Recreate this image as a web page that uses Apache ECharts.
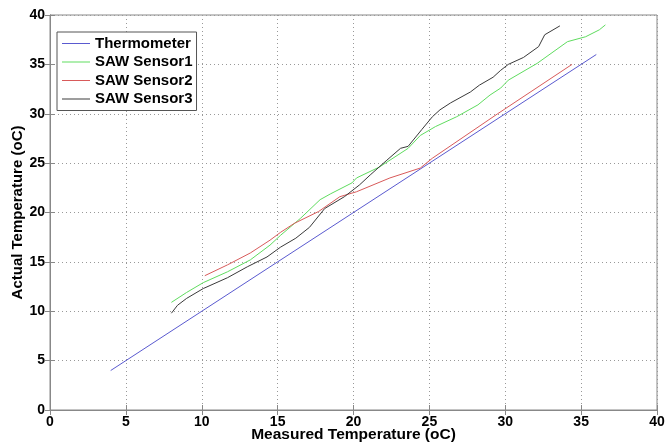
<!DOCTYPE html>
<html>
<head>
<meta charset="utf-8">
<script src="https://cdn.jsdelivr.net/npm/echarts@6/dist/echarts.min.js"></script>
<style>html,body{margin:0;padding:0;background:#fff;}#c{width:670px;height:443px;}</style>
</head>
<body>
<div id="c"></div>
<script>
var seriesNames = ['Thermometer', 'SAW Sensor1', 'SAW Sensor2', 'SAW Sensor3'];
var thermometer = [[4, 4], [36, 36]];
var sensor1 = [[8, 10.9], [9, 11.9], [10.1, 12.9], [11.7, 14.0], [13.2, 15.2], [14.5, 16.7], [15.2, 17.7], [16.5, 19.4], [17.8, 21.3], [18.5, 21.9], [19.9, 23.0], [20.2, 23.5], [21.7, 24.6], [23.6, 26.5], [24.4, 27.8], [25.4, 28.7], [26.8, 29.7], [28.2, 30.9], [29, 31.9], [29.7, 32.6], [30.2, 33.4], [32.1, 35.1], [34.1, 37.3], [35.3, 37.8], [36.2, 38.5], [36.6, 39]];
var sensor2 = [[10.2, 13.6], [11.7, 14.7], [13.2, 15.9], [14.5, 17.2], [15.2, 18.0], [16.1, 18.9], [17.7, 20.1], [19.1, 21.6], [20.2, 22.1], [22.4, 23.5], [24.4, 24.5], [25.2, 25.5], [29.5, 30], [34.4, 35]];
var sensor3 = [[8, 9.8], [8.4, 10.6], [9, 11.3], [10.1, 12.3], [11.7, 13.4], [13, 14.5], [14.3, 15.5], [15.2, 16.5], [16.2, 17.4], [17.1, 18.5], [18.1, 20.4], [19.4, 21.6], [20.4, 22.8], [21.1, 23.8], [22.2, 25.3], [23.1, 26.5], [23.6, 26.7], [24.5, 28.4], [25.2, 29.7], [25.7, 30.4], [26.4, 31.1], [27.7, 32.2], [28.3, 32.9], [29.2, 33.7], [29.7, 34.4], [30.2, 35], [31.2, 35.7], [32.2, 36.8], [32.6, 38], [33.6, 38.9]];
var colors = ['#5a5ad0', '#5fdc5f', '#d85a5a', '#3a3a3a'];

var chart = echarts.init(document.getElementById('c'), null, {renderer: 'canvas'});
var font = 'Liberation Sans, Arial, sans-serif';
function axis(name, gap, nameSize, extra) {
  var a = {
    type: 'value', min: 0, max: 40, interval: 5,
    name: name, nameLocation: 'middle', nameGap: gap, nameMoveOverlap: false,
    nameTextStyle: {fontFamily: font, fontWeight: 'bold', fontSize: nameSize, color: '#000'},
    axisLine: {show: true, lineStyle: {color: '#888', width: 1}},
    axisTick: {show: true, inside: true, length: 5, lineStyle: {color: '#888'}},
    axisLabel: {fontFamily: font, fontWeight: 'bold', fontSize: 14, color: '#000', margin: 5},
    splitLine: {show: true, lineStyle: {type: [1, 3], color: '#999', width: 1}}
  };
  for (var k in extra) a[k] = extra[k];
  return a;
}
function mirror(pos) {
  return {
    type: 'value', min: 0, max: 40, interval: 5, position: pos,
    axisLine: {show: true, lineStyle: {color: '#888', width: 1}},
    axisTick: {show: true, inside: true, length: 5, lineStyle: {color: '#888'}},
    axisLabel: {show: false}, splitLine: {show: false}
  };
}
function mk(i, data) {
  return {
    name: seriesNames[i], type: 'line', data: data, symbol: 'none', smooth: false,
    xAxisIndex: 0, yAxisIndex: 0,
    lineStyle: {color: colors[i], width: 1}, itemStyle: {color: colors[i]}, z: 3
  };
}
chart.setOption({
  animation: false,
  backgroundColor: '#fff',
  grid: {left: 50, right: 13, top: 15, bottom: 33, show: true, borderColor: '#888', borderWidth: 1,
         containLabel: false, outerBoundsMode: 'none'},
  xAxis: [axis('Measured Temperature (oC)', 17, 15.5, {position: 'bottom'}), mirror('top')],
  yAxis: [axis('Actual Temperature (oC)', 25, 15, {position: 'left'}), mirror('right')],
  legend: {
    orient: 'vertical', left: 57, top: 32,
    backgroundColor: '#fff', borderColor: '#555', borderWidth: 1,
    padding: [4, 4, 4, 5], itemGap: 3.5, itemWidth: 28, itemHeight: 1, icon: 'rect',
    textStyle: {fontFamily: font, fontWeight: 'bold', fontSize: 15, color: '#000', lineHeight: 15},
    data: seriesNames
  },
  series: [mk(0, thermometer), mk(1, sensor1), mk(2, sensor2), mk(3, sensor3)]
});
</script>
</body>
</html>
